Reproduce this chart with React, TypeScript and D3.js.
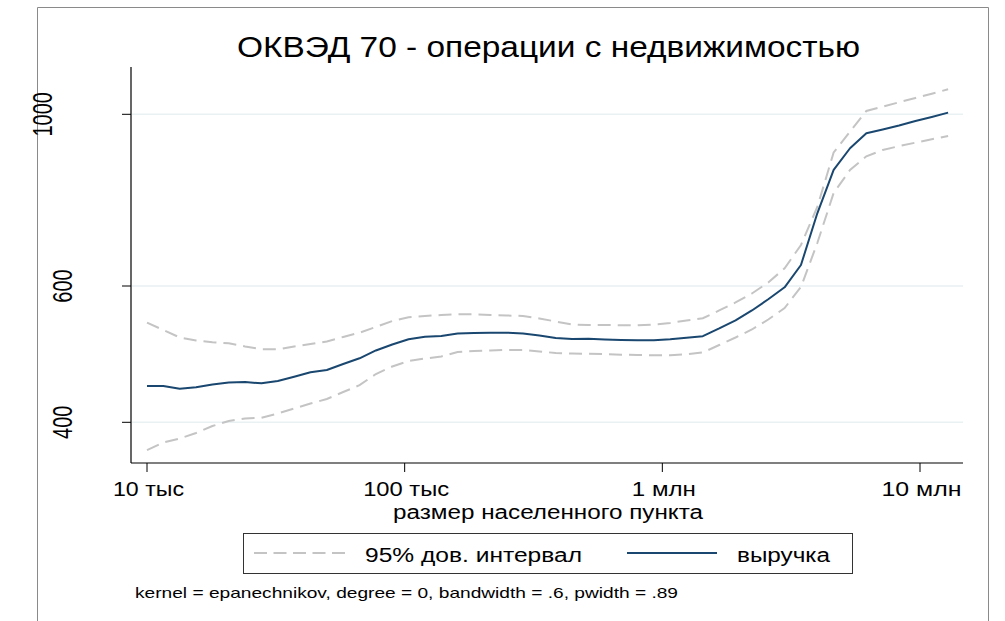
import React from "react";
import * as d3 from "d3";

const TITLE = "ОКВЭД 70 - операции с недвижимостью";
const X_TITLE = "размер населенного пункта";
const NOTE = "kernel = epanechnikov, degree = 0, bandwidth = .6, pwidth = .89";
const LEGEND_CI = "95% дов. интервал";
const LEGEND_FIT = "выручка";

const X_TICKS = [10000, 100000, 1000000, 10000000];
const X_TICK_LABELS = ["10 тыс", "100 тыс", "1 млн", "10 млн"];
const Y_TICKS = [400, 600, 1000];

const POP = [10000, 11573, 13395, 15503, 17940, 20763, 24029, 27811, 32181, 37249,
  43102, 49888, 57730, 66819, 77322, 89497, 103560, 119840, 138710, 160530,
  185780, 215020, 248850, 287970, 333270, 385710, 446370, 516570, 597800, 691930,
  800700, 926800, 1072500, 1241300, 1436400, 1662500, 1923900, 2226800, 2576900, 2982300,
  3451400, 3994600, 4622600, 5350700, 6192000, 7167500, 8294500, 9600000, 11108000, 12856000];

const FIT = [445.6, 445.6, 442.0, 443.9, 447.6, 450.3, 450.9, 449.2, 452.3, 458.1,
  464.2, 467.4, 475.8, 483.9, 495.3, 504.2, 512.1, 515.9, 517.1, 521.0,
  521.7, 522.0, 522.2, 521.0, 517.9, 514.0, 512.5, 512.8, 511.7, 511.0,
  510.7, 510.5, 512.1, 514.3, 516.8, 528.8, 541.8, 557.9, 576.8, 597.7,
  638.7, 744.9, 847.4, 903.9, 945.1, 955.9, 967.3, 980.4, 992.1, 1004.9];

const UPPER = [538.0, 526.4, 514.8, 510.2, 507.5, 506.0, 501.2, 497.0, 497.0, 501.2,
  504.9, 508.7, 515.6, 522.2, 531.1, 540.7, 546.9, 548.8, 550.4, 551.6,
  551.6, 550.4, 549.6, 548.8, 544.7, 539.9, 535.1, 534.3, 534.3, 533.8,
  533.8, 535.1, 537.5, 541.5, 545.1, 557.9, 571.3, 586.8, 606.3, 632.5,
  677.9, 759.0, 892.7, 950.2, 1009.9, 1023.0, 1036.4, 1049.8, 1063.3, 1077.3];

const LOWER = [368.3, 376.7, 381.2, 387.5, 395.6, 401.6, 404.5, 405.5, 410.6, 416.8,
  423.0, 428.7, 437.7, 446.7, 461.8, 472.2, 480.0, 483.6, 486.5, 493.0,
  494.5, 495.3, 496.0, 496.0, 493.8, 491.6, 490.9, 490.4, 489.9, 489.1,
  488.7, 488.3, 488.4, 489.9, 492.3, 503.4, 514.8, 527.2, 543.1, 562.0,
  598.3, 681.9, 791.3, 847.4, 882.6, 899.3, 909.6, 919.1, 928.4, 937.6];

const FONT = "'Liberation Sans', Arial, Helvetica, sans-serif";
const NAVY = "#1a476f";
const CI_GRAY = "#c4c4c4";
const GRID = "#e9f1f3";

export default function App() {
  const W = 1005, H = 621;
  const plotLeft = 131, plotRight = 963, plotTop = 67, plotBottom = 463;

  const x = d3.scaleLog().domain([10000, 10000000]).range([147, 920]);
  const y = d3.scaleLog().domain([400, 1000]).range([422.3, 114.3]);

  const mk = (vals: number[]) =>
    d3.line<number>().x((_, i) => x(POP[i])).y((v) => y(v))(vals) || "";

  const xLabelWidths = [71, 86, 64, 80];
  const yLabelX = [72, 72, 52];

  return (
    <div style={{ position: "absolute", left: 0, top: 0 }}>
      <svg width={W} height={H} style={{ display: "block", background: "#fff" }} fontFamily={FONT}>
        <rect x={0} y={0} width={W} height={H} fill="#fff" />
        {/* outer frame (open at bottom) */}
        <path d={`M37.5,${H} V7.5 H988.5 V${H}`} fill="none" stroke="#8a8a8a" strokeWidth={1} />

        {/* title */}
        <text x={237} y={57} fontSize={30} textLength={623} lengthAdjust="spacingAndGlyphs" fill="#000">{TITLE}</text>

        {/* gridlines */}
        {Y_TICKS.map((t) => (
          <line key={"g" + t} x1={plotLeft + 1} x2={plotRight} y1={y(t)} y2={y(t)} stroke={GRID} strokeWidth={1.6} />
        ))}

        {/* axes */}
        <line x1={plotLeft} x2={plotLeft} y1={plotTop} y2={plotBottom} stroke="#000" strokeWidth={1.2} />
        <line x1={plotLeft} x2={plotRight} y1={plotBottom} y2={plotBottom} stroke="#000" strokeWidth={1.2} />

        {Y_TICKS.map((t, i) => (
          <g key={"y" + t}>
            <line x1={122} x2={plotLeft} y1={y(t)} y2={y(t)} stroke="#000" strokeWidth={1} />
            <text
              transform={`translate(${yLabelX[i]},${y(t)}) scale(1.4,1) rotate(-90)`}
              textAnchor="middle"
              fontSize={20}
              fill="#000"
            >
              {t}
            </text>
          </g>
        ))}

        {X_TICKS.map((t, i) => (
          <g key={"x" + t}>
            <line x1={x(t)} x2={x(t)} y1={plotBottom} y2={472} stroke="#000" strokeWidth={1} />
            <text
              x={x(t) + 1.5 - xLabelWidths[i] / 2}
              y={496}
              fontSize={20}
              textLength={xLabelWidths[i]}
              lengthAdjust="spacingAndGlyphs"
              fill="#000"
            >
              {X_TICK_LABELS[i]}
            </text>
          </g>
        ))}

        <text x={393} y={519} fontSize={20} textLength={310} lengthAdjust="spacingAndGlyphs" fill="#000">{X_TITLE}</text>

        {/* series */}
        <path d={mk(UPPER)} fill="none" stroke={CI_GRAY} strokeWidth={2} strokeDasharray="13,7" />
        <path d={mk(LOWER)} fill="none" stroke={CI_GRAY} strokeWidth={2} strokeDasharray="13,7" />
        <path d={mk(FIT)} fill="none" stroke={NAVY} strokeWidth={2} strokeLinejoin="round" />

        {/* legend */}
        <rect x={243.5} y={533.5} width={609} height={40} fill="#fff" stroke="#333" strokeWidth={1} />
        <line x1={254} x2={345} y1={553} y2={553} stroke={CI_GRAY} strokeWidth={2} strokeDasharray="13,6.5" />
        <text x={365} y={562} fontSize={20} textLength={217} lengthAdjust="spacingAndGlyphs" fill="#000">{LEGEND_CI}</text>
        <line x1={627} x2={717} y1={553} y2={553} stroke={NAVY} strokeWidth={2} />
        <text x={737} y={562} fontSize={20} textLength={93} lengthAdjust="spacingAndGlyphs" fill="#000">{LEGEND_FIT}</text>

        {/* note */}
        <text x={135} y={598} fontSize={15} textLength={543} lengthAdjust="spacingAndGlyphs" fill="#000">{NOTE}</text>
      </svg>
    </div>
  );
}
